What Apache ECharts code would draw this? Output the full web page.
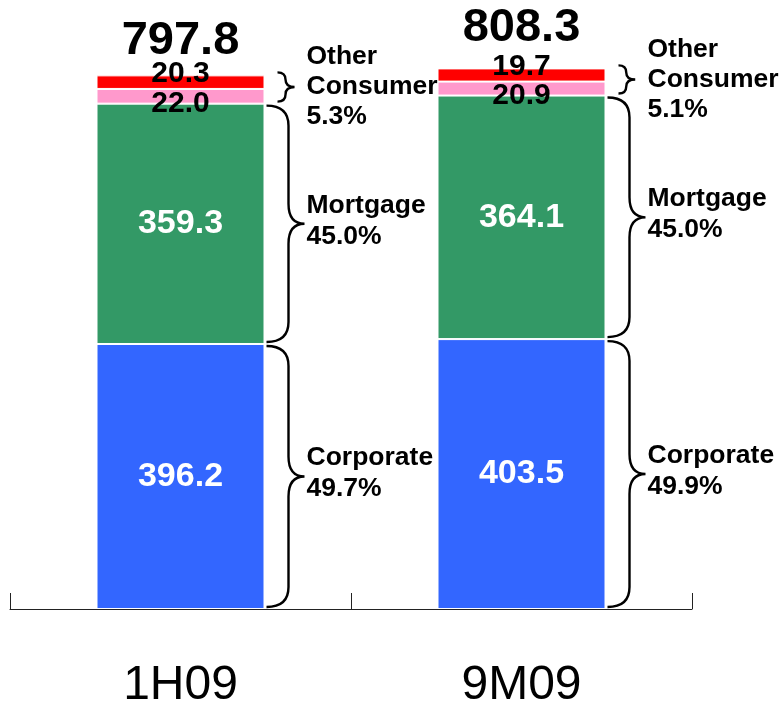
<!DOCTYPE html>
<html>
<head>
<meta charset="utf-8">
<script src="https://cdn.jsdelivr.net/npm/echarts@6/dist/echarts.min.js"></script>
<style>
html, body { margin: 0; padding: 0; background: #fff; }
#loanchart { width: 784px; height: 705px; }
</style>
</head>
<body>
<div id="loanchart"></div>
<script>
const categories = ["1H09", "9M09"];
const corporate = [396.2, 403.5];
const mortgage = [359.3, 364.1];
const consumer = [22.0, 20.9];
const other = [20.3, 19.7];
const totals = [797.8, 808.3];
const corporatePct = ["49.7%", "49.9%"];
const mortgagePct = ["45.0%", "45.0%"];
const otherConsumerPct = ["5.3%", "5.1%"];

const FONT = "'Liberation Sans', Arial, sans-serif";
const BAR_W = 168;
const totalLift = [11, 17];

// brace rows: [category index, low, high]
let braces = [];
let braceText = [];
categories.forEach((c, i) => {
  let a = corporate[i], b = a + mortgage[i], t = b + consumer[i] + other[i];
  braces.push([i, 0, a]); braceText.push("Corporate\n" + corporatePct[i]);
  braces.push([i, a, b]); braceText.push("Mortgage\n" + mortgagePct[i]);
  braces.push([i, b, t]); braceText.push("Other\nConsumer\n" + otherConsumerPct[i]);
});

const renderBrace = (params, api) => {
  let top = api.coord([api.value(0), api.value(2)]);
  let bot = api.coord([api.value(0), api.value(1)]);
  let barRight = top[0] + BAR_W / 2;
  let h = bot[1] - top[1];
  let small = h < 60;
  let y0 = top[1] + (small ? -3 : 2);
  let y1 = bot[1] - 2;
  let ym = (y0 + y1) / 2;
  let r = Math.min(20, (y1 - y0) / 4);
  let x0 = barRight + (small ? 13 : 2);
  let xs = x0 + r * 1.1;
  let xt = xs + (small ? 9 : 16);
  let d = "M" + x0 + " " + y0 + " Q" + xs + " " + y0 + " " + xs + " " + (y0 + r) +
    " L" + xs + " " + (ym - r) + " Q" + xs + " " + ym + " " + xt + " " + ym +
    " Q" + xs + " " + ym + " " + xs + " " + (ym + r) +
    " L" + xs + " " + (y1 - r) + " Q" + xs + " " + y1 + " " + x0 + " " + y1;
  return {
    type: "group",
    children: [
      {
        type: "path",
        shape: { pathData: d },
        style: { stroke: "#000", fill: null, lineWidth: 2.4 }
      },
      {
        type: "text",
        style: {
          x: barRight + 42,
          y: ym + (small ? 0 : -3),
          text: braceText[params.dataIndex],
          font: "bold 26.5px " + FONT,
          lineHeight: small ? 30 : 31,
          fill: "#000",
          align: "left",
          verticalAlign: "middle"
        }
      }
    ]
  };
};

const segment = (name, data, color, label) => ({
  name: name,
  type: "bar",
  stack: "loans",
  barWidth: BAR_W,
  data: data,
  itemStyle: { color: color, borderColor: "#fff", borderWidth: 1 },
  label: label,
  z: 2
});

let myChart = echarts.init(document.getElementById("loanchart"));
let option = {
  animation: false,
  backgroundColor: "#fff",
  grid: { left: 10, right: 92, top: 7, bottom: 96, outerBoundsMode: "none" },
  xAxis: {
    type: "category",
    data: categories,
    axisLine: { show: true, lineStyle: { color: "#222", width: 1 } },
    axisTick: { show: true, inside: true, length: 16, lineStyle: { color: "#222", width: 1 } },
    axisLabel: { color: "#000", fontSize: 48, fontFamily: FONT, margin: 53 }
  },
  yAxis: { type: "value", min: 0, max: 900, show: false, splitLine: { show: false } },
  series: [
    segment("Corporate", corporate, "#3366FF", {
      show: true, position: "inside", color: "#fff",
      fontSize: 34, fontWeight: "bold", fontFamily: FONT
    }),
    segment("Mortgage", mortgage, "#339966", {
      show: true, position: "inside", color: "#fff",
      fontSize: 34, fontWeight: "bold", fontFamily: FONT
    }),
    segment("Consumer", consumer, "#FF99CC", {
      show: true, position: "inside", color: "#000", offset: [0, 7],
      fontSize: 30, fontWeight: "bold", fontFamily: FONT,
      formatter: (p) => p.value.toFixed(1)
    }),
    segment("Other", other, "#FF0000", {
      show: true, position: "inside", color: "#000", offset: [0, -8],
      fontSize: 30, fontWeight: "bold", fontFamily: FONT,
      formatter: (p) => p.value.toFixed(1)
    }),
    {
      name: "Total",
      type: "scatter",
      symbolSize: 0,
      itemStyle: { opacity: 1, color: "#000" },
      data: totals.map((v, i) => ({ value: v, label: { distance: totalLift[i] } })),
      label: {
        show: true, position: "top", color: "#000", opacity: 1,
        fontSize: 47, fontWeight: "bold", fontFamily: FONT,
        formatter: (p) => p.value.toFixed(1)
      },
      z: 5
    },
    {
      name: "Braces",
      type: "custom",
      renderItem: renderBrace,
      data: braces,
      encode: { x: 0, y: [1, 2] },
      z: 4
    }
  ]
};
option && myChart.setOption(option);
</script>
</body>
</html>
